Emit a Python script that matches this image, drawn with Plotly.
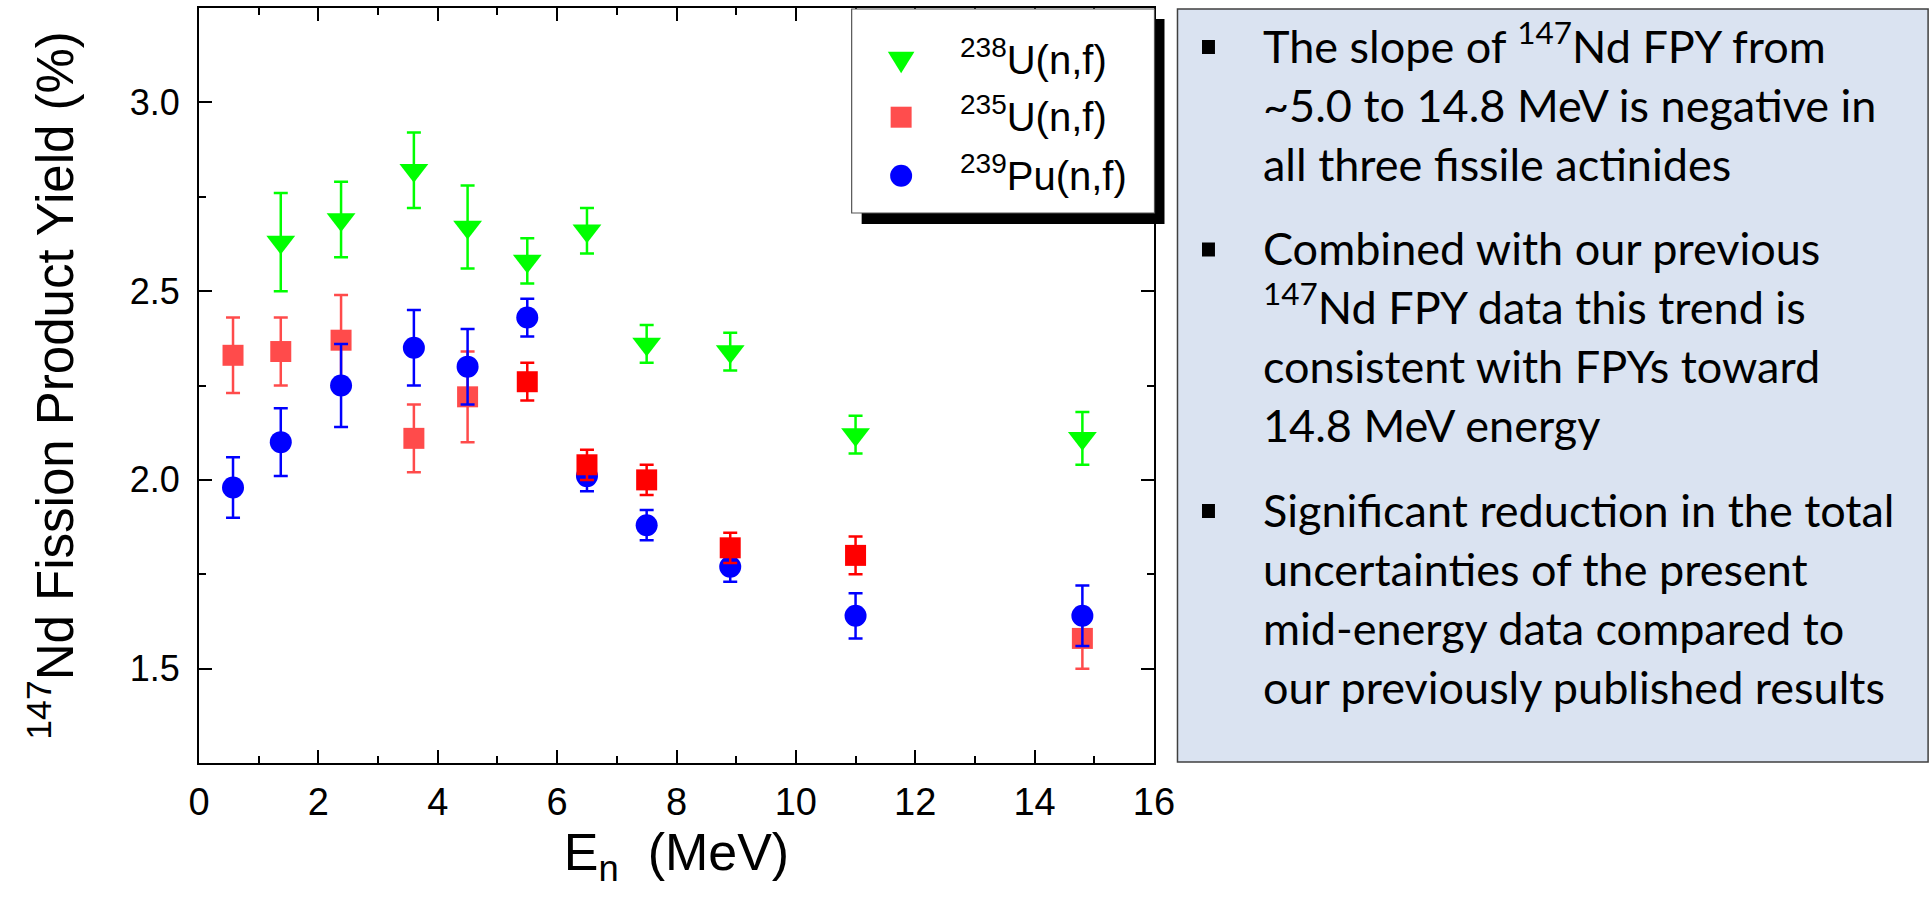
import plotly.graph_objects as go

# ---------------------------------------------------------------------------
# 147Nd fission product yields (%) versus incident neutron energy (MeV)
# ---------------------------------------------------------------------------
u238_energy = [1.37, 2.38, 3.6, 4.5, 5.5, 6.5, 7.5, 8.9, 11.0, 14.8]
u238_yield = [2.63, 2.69, 2.82, 2.67, 2.58, 2.66, 2.36, 2.34, 2.12, 2.11]
u238_err = [0.13, 0.10, 0.10, 0.11, 0.06, 0.06, 0.05, 0.05, 0.05, 0.07]

u235_energy = [0.57, 1.37, 2.38, 3.6, 4.5, 5.5, 6.5, 7.5, 8.9, 11.0, 14.8]
u235_yield = [2.33, 2.34, 2.37, 2.11, 2.22, 2.26, 2.04, 2.00, 1.82, 1.80, 1.58]
u235_err = [0.10, 0.09, 0.12, 0.09, 0.12, 0.05, 0.04, 0.04, 0.04, 0.05, 0.08]
# points drawn in the paler red
u235_pale = [True, True, True, True, True, False, False, False, False, False, True]

pu239_energy = [0.57, 1.37, 2.38, 3.6, 4.5, 5.5, 6.5, 7.5, 8.9, 11.0, 14.8]
pu239_yield = [1.98, 2.10, 2.25, 2.35, 2.30, 2.43, 2.01, 1.88, 1.77, 1.64, 1.64]
pu239_err = [0.08, 0.09, 0.11, 0.10, 0.10, 0.05, 0.04, 0.04, 0.04, 0.06, 0.08]

series_labels = ["<sup>238</sup>U(n,f)", "<sup>235</sup>U(n,f)", "<sup>239</sup>Pu(n,f)"]

x_title = "E<sub>n</sub>&nbsp; (MeV)"
y_title = "<sup>147</sup>Nd Fission Product Yield (%)"

bullets = [
    ["The slope of <sup>147</sup>Nd FPY from",
     "~5.0 to 14.8 MeV is negative in",
     "all three fissile actinides"],
    ["Combined with our previous",
     "<sup>147</sup>Nd FPY data this trend is",
     "consistent with FPYs toward",
     "14.8 MeV energy"],
    ["Significant reduction in the total",
     "uncertainties of the present",
     "mid-energy data compared to",
     "our previously published results"],
]

# ---------------------------------------------------------------------------
# Page geometry (pixels) and helpers to convert to paper coordinates
# ---------------------------------------------------------------------------
W, H = 1932, 901
PL, PR, PT, PB = 199, 1154.5, 8, 763


def xp(px):
    return (px - PL) / (PR - PL)


def yp(py):
    return (PB - py) / (PB - PT)


GREEN = "#00FF00"
RED = "#FF0000"
PALE_RED = "#FF4D4D"
BLUE = "#0000FF"
ARIAL = "Liberation Sans, Arial, sans-serif"
BODY = "Lato, Carlito, Calibri, sans-serif"


def err_bar(values, color):
    return dict(type="data", array=values, visible=True, color=color,
                thickness=2.5, width=7)


fig = go.Figure()

fig.add_trace(go.Scatter(
    x=u238_energy, y=u238_yield, mode="markers", name=series_labels[0],
    marker=dict(symbol="triangle-down", size=25, color=GREEN, line=dict(width=0)),
    error_y=err_bar(u238_err, GREEN)))

pale_idx = [i for i, p in enumerate(u235_pale) if p]
solid_idx = [i for i, p in enumerate(u235_pale) if not p]

fig.add_trace(go.Scatter(
    x=[u235_energy[i] for i in pale_idx], y=[u235_yield[i] for i in pale_idx],
    mode="markers", name=series_labels[1], opacity=0.7,
    marker=dict(symbol="square", size=21, color=RED, line=dict(width=0)),
    error_y=err_bar([u235_err[i] for i in pale_idx], RED)))

fig.add_trace(go.Scatter(
    x=pu239_energy, y=pu239_yield, mode="markers", name=series_labels[2],
    marker=dict(symbol="circle", size=22, color=BLUE, line=dict(width=0)),
    error_y=err_bar(pu239_err, BLUE)))

fig.add_trace(go.Scatter(
    x=[u235_energy[i] for i in solid_idx], y=[u235_yield[i] for i in solid_idx],
    mode="markers", name=series_labels[1], showlegend=False,
    marker=dict(symbol="square", size=21, color=RED, line=dict(width=0)),
    error_y=err_bar([u235_err[i] for i in solid_idx], RED)))

axis_common = dict(
    showline=True, linewidth=2, linecolor="black", mirror="allticks",
    ticks="inside", ticklen=13, tickwidth=2, tickcolor="black",
    showgrid=False, zeroline=False,
)

fig.update_xaxes(
    range=[0, 16], tick0=0, dtick=2,
    minor=dict(dtick=1, ticks="inside", ticklen=7, tickwidth=2,
               tickcolor="black", showgrid=False),
    tickfont=dict(family=ARIAL, size=38, color="black"),
    ticklabelstandoff=4,
    title=dict(text=x_title, font=dict(family=ARIAL, size=52, color="black"),
               standoff=10),
    **axis_common)

fig.update_yaxes(
    range=[1.25, 3.25], tick0=1.5, dtick=0.5, tickformat=".1f",
    minor=dict(dtick=0.25, ticks="inside", ticklen=7, tickwidth=2,
               tickcolor="black", showgrid=False),
    tickfont=dict(family=ARIAL, size=36, color="black"),
    ticklabelstandoff=10,
    title=dict(text=y_title, font=dict(family=ARIAL, size=51, color="black"),
               standoff=40),
    **axis_common)

shapes = []
annotations = []


def text_line(text, left_px, baseline_px, size, family, descent, box_w, box_h):
    """Single line of text whose baseline sits at baseline_px."""
    return dict(
        text=text, xref="paper", yref="paper",
        x=xp(left_px), y=yp(baseline_px + descent * size + 2),
        xanchor="left", yanchor="bottom", align="left", valign="bottom",
        width=box_w, height=box_h, showarrow=False,
        font=dict(family=family, size=size, color="black"))


# Legend: drop shadow, white panel, symbol keys and labels
shapes.append(dict(type="rect", xref="paper", yref="paper", layer="above",
                   x0=xp(862), x1=xp(1165), y0=yp(224), y1=yp(19),
                   fillcolor="black", line=dict(width=0)))
shapes.append(dict(type="rect", xref="paper", yref="paper", layer="above",
                   x0=xp(852), x1=xp(1155), y0=yp(213), y1=yp(9),
                   fillcolor="white", line=dict(color="#555555", width=1.2)))

key_x = 901.5
row_base = [74, 130.7, 189.3]
row_mid = [61.7, 117.2, 175.8]

# triangle key
tri_half_w, tri_top, tri_bot = 13.3, 51.7, 73.3
tri_path = "M {:.5f} {:.5f} L {:.5f} {:.5f} L {:.5f} {:.5f} Z".format(
    xp(key_x - tri_half_w), yp(tri_top), xp(key_x + tri_half_w), yp(tri_top),
    xp(key_x), yp(tri_bot))
shapes.append(dict(type="path", xref="paper", yref="paper", layer="above",
                   path=tri_path, fillcolor=GREEN, line=dict(width=0)))
# square key
shapes.append(dict(type="rect", xref="paper", yref="paper", layer="above",
                   x0=xp(key_x - 10.5), x1=xp(key_x + 10.5),
                   y0=yp(row_mid[1] + 10.5), y1=yp(row_mid[1] - 10.5),
                   fillcolor=PALE_RED, line=dict(width=0)))
# circle key
shapes.append(dict(type="circle", xref="paper", yref="paper", layer="above",
                   x0=xp(key_x - 11), x1=xp(key_x + 11),
                   y0=yp(row_mid[2] + 11), y1=yp(row_mid[2] - 11),
                   fillcolor=BLUE, line=dict(width=0)))

LEG_SIZE = 40
for label, base in zip(series_labels, row_base):
    annotations.append(text_line(label, 958, base, LEG_SIZE, ARIAL, 0.212,
                                 185, 58))

# Summary panel on the right
shapes.append(dict(type="rect", xref="paper", yref="paper", layer="above",
                   x0=xp(1178), x1=xp(1929), y0=yp(762), y1=yp(9),
                   fillcolor="#DAE3F1", line=dict(color="#404040", width=1.5)))

BODY_SIZE = 45
LINE_STEP = 59
first_base = [63, 265.5, 527]
text_left = 1262
bullet_x = 1209
for lines, base0 in zip(bullets, first_base):
    cy = base0 - 16
    shapes.append(dict(type="rect", xref="paper", yref="paper", layer="above",
                       x0=xp(bullet_x - 6.5), x1=xp(bullet_x + 6.5),
                       y0=yp(cy + 7), y1=yp(cy - 7),
                       fillcolor="black", line=dict(width=0)))
    for k, line in enumerate(lines):
        base = base0 + k * LINE_STEP
        annotations.append(text_line(line, text_left, base, BODY_SIZE, BODY,
                                     0.213, 655, 66))

fig.update_layout(
    width=W, height=H,
    margin=dict(l=PL, r=W - PR, t=PT, b=H - PB, autoexpand=False),
    paper_bgcolor="white", plot_bgcolor="white",
    showlegend=False,
    shapes=shapes, annotations=annotations,
)

fig.write_html("out.html", config={"displayModeBar": False})
